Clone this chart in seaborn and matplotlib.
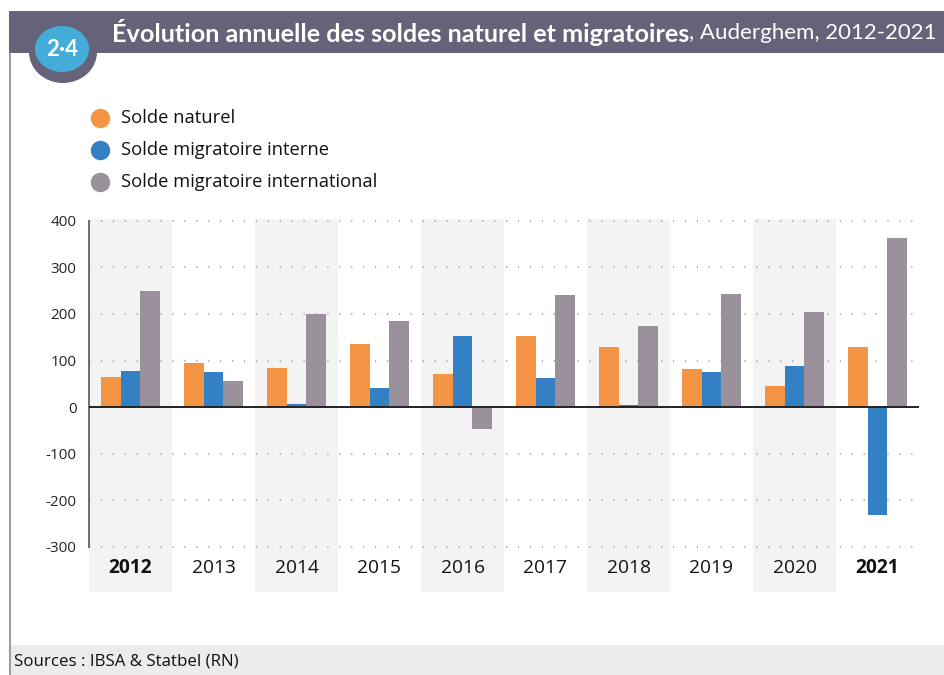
import matplotlib
matplotlib.use("Agg")
import matplotlib.pyplot as plt
import numpy as np
import pandas as pd
import seaborn as sns
from matplotlib.patches import Rectangle, Ellipse

# data
annees = ["2012", "2013", "2014", "2015", "2016", "2017", "2018", "2019", "2020", "2021"]
series = ["Solde naturel", "Solde migratoire interne", "Solde migratoire international"]
solde_naturel = [64, 94, 84, 135, 71, 152, 129, 81, 45, 129]
solde_interne = [77, 75, 6, 41, 152, 62, 4, 75, 88, -231]
solde_international = [249, 56, 201, 184, -47, 240, 174, 242, 204, 364]
couleurs = ["#f39545", "#3480c4", "#9a919d"]

df = pd.DataFrame({
    "annee": annees * 3,
    "serie": [series[0]] * 10 + [series[1]] * 10 + [series[2]] * 10,
    "valeur": solde_naturel + solde_interne + solde_international,
})

sns.set_style("white")
plt.rcParams["font.family"] = ["Open Sans", "DejaVu Sans"]

W, H = 945, 675
fig = plt.figure(figsize=(9.45, 6.75), dpi=100)

def fx(px):
    return px / W

def fy(py):
    return 1 - py / H

ax = fig.add_axes([fx(89), fy(592), fx(919) - fx(89), fy(219) - fy(592)])

# alternating bands
for i in range(0, 10, 2):
    ax.axvspan(i - 0.5, i + 0.5, color="#f3f3f3", zorder=0, lw=0)

sns.barplot(data=df, x="annee", y="valeur", hue="serie", palette=couleurs,
            width=0.72, saturation=1, legend=False, ax=ax, zorder=3,
            linewidth=0, edgecolor="none")

ax.set_xlim(-0.5, 9.5)
ax.set_ylim(-397, 404)
yt = list(range(-300, 401, 100))
ax.set_yticks(yt)
ax.set_yticklabels([str(v) for v in yt], fontsize=11)
ax.tick_params(axis="y", length=0, pad=9)
for v in yt:
    if v != 0:
        ax.axhline(v, color="#9a9a9a", lw=1.1, ls=(0, (0.8, 7)), zorder=1)
ax.axhline(0, color="#222222", lw=1.4, zorder=4)

ax.set_xticks([])
ax.set_xlabel("")
ax.set_ylabel("")
for s in ["top", "right", "bottom"]:
    ax.spines[s].set_visible(False)
ax.spines["left"].set_bounds(-300, 400)
ax.spines["left"].set_color("#555555")
ax.spines["left"].set_linewidth(1.2)
ax.patch.set_alpha(0)

for i, a in enumerate(annees):
    bold = a in ("2012", "2021")
    ax.text(i, -346, a, ha="center", va="center", fontsize=13.8,
            fontweight="bold" if bold else "normal", color="#111111")

# overlay in pixel coordinates for frame, header, legend
ov = fig.add_axes([0, 0, 1, 1], facecolor="none", zorder=5)
ov.set_xlim(0, W)
ov.set_ylim(H, 0)
ov.axis("off")

# legend
for k, (lab, c) in enumerate(zip(series, couleurs)):
    y = 118 + 32 * k
    ov.plot([100], [y], marker="o", markersize=13, color=c, lw=0)
    ov.text(121, y, lab, fontsize=13.2, va="center", ha="left", color="#111111")

# frame
ov.plot([10, 10], [53, H], color="#8a8a8a", lw=1.2)
ov.add_patch(Rectangle((11, 645), W - 11, 30, color="#ececec", lw=0))
ov.text(14, 662, "Sources : IBSA & Statbel (RN)", fontsize=12.2,
        va="center", ha="left", color="#111111")
ov.add_patch(Rectangle((9, 11), W - 9, 42, color="#66627a", lw=0))

# badge
ov.add_patch(Ellipse((63, 52), 68, 62, color="#66627a", lw=0))
ov.add_patch(Ellipse((62, 49), 54, 46, color="#44acd9", lw=0))
ov.text(62, 50, "2·4", color="white", fontsize=16, fontweight="bold",
        ha="center", va="center", family=["Lato", "DejaVu Sans"])

t1 = ov.text(112, 33, "Évolution annuelle des soldes naturel et migratoires",
             color="white", fontsize=18.2, fontweight="bold", ha="left",
             va="center", family=["Lato", "DejaVu Sans"])
fig.canvas.draw()
x_end = t1.get_window_extent().x1  # display pixels == overlay x units
ov.text(x_end, 33, ", Auderghem, 2012-2021", color="white", fontsize=16,
        ha="left", va="center", family=["Lato", "DejaVu Sans"])

fig.savefig("out.png", dpi=100)
